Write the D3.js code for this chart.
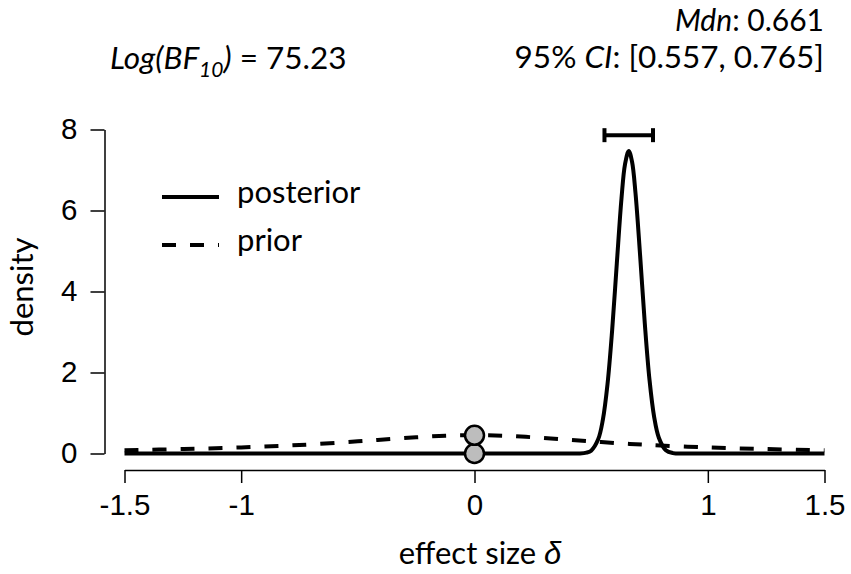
<!DOCTYPE html>
<html>
<head>
<meta charset="utf-8">
<script src="https://cdn.jsdelivr.net/npm/d3@7"></script>
<style>
  body { margin: 0; background: #fff; }
  svg { display: block; font-family: Lato, "Open Sans", sans-serif; }
</style>
</head>
<body>
<svg id="chart"></svg>
<script>
// values
const xTicks = [-1.5, -1, 0, 1, 1.5];
const yTicks = [0, 2, 4, 6, 8];

const priorX = [-1.5, -1.25, -1, -0.75, -0.5, -0.375, -0.25, -0.125, 0, 0.125, 0.25, 0.375, 0.5, 0.625, 0.75, 1, 1.25, 1.5];
const priorDensity = [0.08, 0.11, 0.15, 0.21, 0.3, 0.35, 0.4, 0.44, 0.45, 0.44, 0.4, 0.35, 0.3, 0.25, 0.21, 0.15, 0.11, 0.08];

const posteriorX = [-1.5, 0.4, 0.45, 0.48, 0.5, 0.53, 0.55, 0.57, 0.59, 0.61, 0.63, 0.645, 0.661, 0.675, 0.69, 0.71, 0.73, 0.75, 0.77, 0.79, 0.82, 0.85, 0.92, 1.5];
const posteriorDensity = [0, 0, 0, 0.02, 0.07, 0.35, 0.83, 1.71, 3.05, 4.7, 6.3, 7.14, 7.47, 7.21, 6.43, 4.87, 3.2, 1.82, 0.9, 0.39, 0.08, 0.01, 0, 0];

// density at zero for posterior and prior
const pointX = [0, 0];
const pointDensity = [0, 0.45];

const ciBounds = [0.557, 0.765];
const ciLevel = 7.86;

const legendNames = ["posterior", "prior"];
const logBF = "75.23";
const median = "0.661";

const svg = d3.select("#chart");
const margin = { top: 129.5, right: 26.5, bottom: 120.5, left: 124.5 };
const width = 851 - margin.left - margin.right;
const height = 574 - margin.top - margin.bottom;

svg.attr("width", 851).attr("height", 574);

const g = svg.append("g").attr("transform", `translate(${margin.left},${margin.top})`);

const xScale = d3.scaleLinear().domain([-1.5, 1.5]).range([0, width]);
const yScale = d3.scaleLinear().domain([0, 8]).range([height, 0]);

// axes, R style: detached from the plot area
const yAxis = g.append("g")
  .attr("transform", "translate(-20,0)")
  .call(d3.axisLeft(yScale).tickValues(yTicks).tickSize(14).tickSizeOuter(0).tickPadding(13).tickFormat((d) => String(d)));

const xAxis = g.append("g")
  .attr("transform", `translate(0,${height + 16.5})`)
  .call(d3.axisBottom(xScale).tickValues(xTicks).tickSize(13).tickSizeOuter(0).tickPadding(11).tickFormat((d) => String(d)));

[yAxis, xAxis].forEach((ax) => {
  ax.selectAll("path, line").attr("stroke", "#000").attr("stroke-width", 1.5);
  ax.selectAll("text").style("font-size", "29.5px").attr("fill", "#000");
});

const line = d3.line()
  .x((d) => xScale(d[0]))
  .y((d) => yScale(d[1]))
  .curve(d3.curveCatmullRom);

g.append("path")
  .datum(d3.zip(priorX, priorDensity))
  .attr("d", line)
  .attr("fill", "none")
  .attr("stroke", "#000")
  .attr("stroke-width", 4)
  .attr("stroke-dasharray", "14,14");

g.append("path")
  .datum(d3.zip(posteriorX, posteriorDensity))
  .attr("d", line)
  .attr("fill", "none")
  .attr("stroke", "#000")
  .attr("stroke-width", 4)
  .attr("stroke-linejoin", "round");

g.selectAll(".zero-point")
  .data(d3.zip(pointX, pointDensity))
  .enter()
  .append("circle")
  .attr("class", "zero-point")
  .attr("cx", (d) => xScale(d[0]))
  .attr("cy", (d) => yScale(d[1]))
  .attr("r", 9.5)
  .attr("fill", "#bdbdbd")
  .attr("stroke", "#000")
  .attr("stroke-width", 2.5);

// credible interval bar
const ci = g.append("g").attr("stroke", "#000").attr("stroke-width", 4);
ci.append("line")
  .attr("x1", xScale(ciBounds[0])).attr("x2", xScale(ciBounds[1]))
  .attr("y1", yScale(ciLevel)).attr("y2", yScale(ciLevel));
ci.selectAll(".cap")
  .data(ciBounds)
  .enter()
  .append("line")
  .attr("class", "cap")
  .attr("x1", (d) => xScale(d)).attr("x2", (d) => xScale(d))
  .attr("y1", yScale(ciLevel) - 7).attr("y2", yScale(ciLevel) + 7);

// legend
const legend = svg.append("g").attr("transform", "translate(162,197)");
legendNames.forEach((name, i) => {
  const row = legend.append("g").attr("transform", `translate(0,${i * 48})`);
  row.append("line")
    .attr("x1", 0).attr("x2", 57)
    .attr("stroke", "#000").attr("stroke-width", 4)
    .attr("stroke-dasharray", i === 1 ? "14,14" : null);
  row.append("text")
    .attr("x", 75).attr("y", 6)
    .style("font-size", "31px")
    .text(name);
});

// axis titles
svg.append("text")
  .attr("transform", "translate(33,287) rotate(-90)")
  .attr("text-anchor", "middle")
  .style("font-size", "31px")
  .text("density");

const xLabel = svg.append("text")
  .attr("x", 480).attr("y", 564)
  .attr("text-anchor", "middle")
  .style("font-size", "31px");
xLabel.append("tspan").text("effect size ");
xLabel.append("tspan")
  .style("font-family", "'Liberation Sans', 'DejaVu Sans', sans-serif")
  .style("font-style", "italic")
  .text("δ");

// header texts
const bf = svg.append("text").attr("x", 110).attr("y", 69).style("font-size", "31.5px");
bf.append("tspan").style("font-style", "italic").text("Log(BF");
bf.append("tspan").style("font-style", "italic").style("font-size", "21px").attr("dy", 8).text("10");
bf.append("tspan").style("font-style", "italic").attr("dy", -8).text(")");
bf.append("tspan").text(` = ${logBF}`);

const mdn = svg.append("text").attr("x", 824).attr("y", 31).attr("text-anchor", "end").style("font-size", "30px");
mdn.append("tspan").style("font-style", "italic").text("Mdn");
mdn.append("tspan").text(`: ${median}`);

const ciText = svg.append("text").attr("x", 824).attr("y", 68).attr("text-anchor", "end").style("font-size", "31.5px");
ciText.append("tspan").text("95% ");
ciText.append("tspan").style("font-style", "italic").text("CI");
ciText.append("tspan").text(`: [${ciBounds[0].toFixed(3)}, ${ciBounds[1].toFixed(3)}]`);
</script>
</body>
</html>
